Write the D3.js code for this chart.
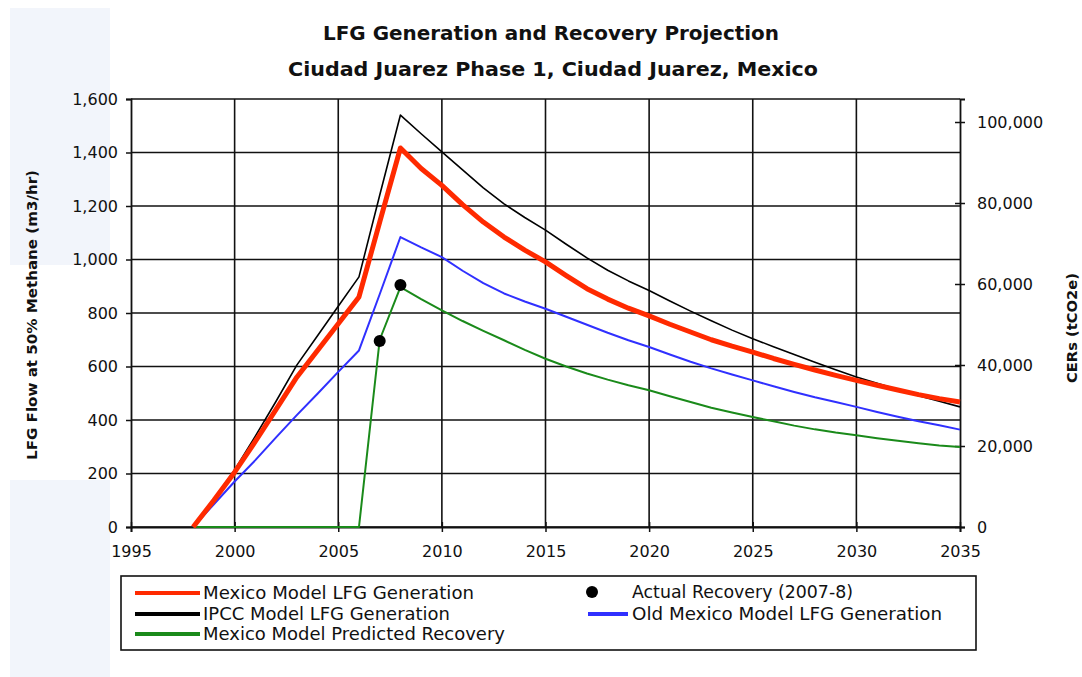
<!DOCTYPE html>
<html>
<head>
<meta charset="utf-8">
<script src="https://cdn.jsdelivr.net/npm/d3@7"></script>
<style>
  body { margin: 0; background: #fff; }
  text { font-family: "DejaVu Sans", sans-serif; fill: #111; }
</style>
</head>
<body>
<div id="chart"></div>
<script>
// data, one value per year 1998..2035
var years = d3.range(1998, 2036);
var mexicoGen = [0, 100, 205, 320, 440, 560, 660, 760, 860, 1140, 1417,
  1340, 1277, 1205, 1140, 1084, 1035, 991, 940, 891, 852, 818, 789, 758, 729, 700,
  676, 654, 630, 608, 587, 567, 548, 530, 512, 495, 480, 467];
var ipccGen = [0, 105, 213, 340, 470, 605, 715, 825, 935, 1240, 1540,
  1470, 1402, 1335, 1268, 1208, 1157, 1110, 1057, 1006, 960, 920, 884, 845, 807, 771,
  736, 704, 674, 645, 616, 588, 561, 537, 514, 491, 470, 449];
var oldMexicoGen = [0, 85, 170, 250, 335, 418, 498, 580, 660, 870, 1084,
  1045, 1009, 958, 912, 873, 843, 816, 786, 756, 726, 698, 673, 645, 618, 593,
  570, 548, 526, 505, 485, 467, 449, 430, 412, 395, 380, 364];
var predictedRecovery = [0, 0, 0, 0, 0, 0, 0, 0, 0, 700, 897,
  852, 810, 770, 733, 698, 662, 629, 600, 574, 551, 530, 511, 489, 467, 446,
  428, 411, 395, 379, 365, 353, 343, 332, 322, 313, 305, 299];
var actualYears = [2007, 2008];
var actualRecovery = [695, 905];

var xTicks = d3.range(1995, 2036, 5);
var yTicks = d3.range(0, 1601, 200);
var cerTicks = d3.range(0, 100001, 20000);

var seriesNames = ["Mexico Model LFG Generation", "IPCC Model LFG Generation",
  "Mexico Model Predicted Recovery", "Old Mexico Model LFG Generation"];
var seriesValues = [mexicoGen, ipccGen, predictedRecovery, oldMexicoGen];
var seriesColors = ["#ff2a00", "#000000", "#1a8a1a", "#3030ff"];
var seriesWidths = [5, 1.6, 2, 2];

var W = 1082, H = 677;
var plotLeft = 131, plotRight = 960, plotTop = 99, plotBottom = 527;

var svg = d3.select("#chart").append("svg")
  .attr("width", W)
  .attr("height", H);

// pale strips on the left edge of the original page
svg.append("rect").attr("x", 10).attr("y", 8).attr("width", 100).attr("height", 257).attr("fill", "#f2f5fb");
svg.append("rect").attr("x", 10).attr("y", 480).attr("width", 100).attr("height", 197).attr("fill", "#f2f5fb");

var x = d3.scaleLinear().domain([1995, 2035]).range([plotLeft, plotRight]);
var y = d3.scaleLinear().domain([0, 1600]).range([plotBottom, plotTop]);
var y2 = d3.scaleLinear().domain([0, 1600 * 100000 / 1514]).range([plotBottom, plotTop]);

// grid
svg.append("g").selectAll("line")
  .data(yTicks).enter().append("line")
  .attr("x1", plotLeft).attr("x2", plotRight)
  .attr("y1", function(d) { return y(d); })
  .attr("y2", function(d) { return y(d); })
  .attr("stroke", "#111").attr("stroke-width", 1.6);

svg.append("g").selectAll("line")
  .data(xTicks.slice(1, -1)).enter().append("line")
  .attr("x1", function(d) { return x(d); })
  .attr("x2", function(d) { return x(d); })
  .attr("y1", plotTop).attr("y2", plotBottom)
  .attr("stroke", "#111").attr("stroke-width", 1.6);

// axes
var yAxis = svg.append("g")
  .attr("transform", "translate(" + plotLeft + ",0)")
  .call(d3.axisLeft(y).tickValues(yTicks).tickSize(5).tickPadding(8).tickFormat(d3.format(",")));

var xAxis = svg.append("g")
  .attr("transform", "translate(0," + plotBottom + ")")
  .call(d3.axisBottom(x).tickValues(xTicks).tickSize(5).tickPadding(14).tickFormat(d3.format("d")));
xAxis.selectAll(".tick line").attr("y1", -5);

var y2Axis = svg.append("g")
  .attr("transform", "translate(" + plotRight + ",0)")
  .call(d3.axisRight(y2).tickValues(cerTicks).tickSize(5).tickPadding(12).tickFormat(d3.format(",")));
y2Axis.selectAll(".tick line").attr("x1", -5);

[yAxis, xAxis, y2Axis].forEach(function(a) {
  a.select(".domain").attr("stroke", "#111").attr("stroke-width", 1.8);
  a.selectAll(".tick line").attr("stroke", "#111").attr("stroke-width", 1.5);
  a.selectAll(".tick text").style("font-size", "16px").attr("fill", "#111");
});

// lines
var line = d3.line()
  .x(function(d, i) { return x(years[i]); })
  .y(function(d) { return y(d); });

var drawOrder = [3, 2, 1, 0];
drawOrder.forEach(function(k) {
  svg.append("path")
    .datum(seriesValues[k])
    .attr("d", line)
    .attr("fill", "none")
    .attr("stroke", seriesColors[k])
    .attr("stroke-width", seriesWidths[k])
    .attr("stroke-linejoin", "round");
});

svg.append("g").selectAll("circle")
  .data(actualRecovery).enter().append("circle")
  .attr("cx", function(d, i) { return x(actualYears[i]); })
  .attr("cy", function(d) { return y(d); })
  .attr("r", 6)
  .attr("fill", "#000");

// titles
svg.append("text")
  .attr("x", 551).attr("y", 40)
  .attr("text-anchor", "middle")
  .attr("textLength", 456).attr("lengthAdjust", "spacingAndGlyphs")
  .style("font-size", "20px").style("font-weight", "bold")
  .text("LFG Generation and Recovery Projection");

svg.append("text")
  .attr("x", 553).attr("y", 76)
  .attr("text-anchor", "middle")
  .attr("textLength", 530).attr("lengthAdjust", "spacingAndGlyphs")
  .style("font-size", "20px").style("font-weight", "bold")
  .text("Ciudad Juarez Phase 1, Ciudad Juarez, Mexico");

svg.append("text")
  .attr("transform", "translate(37,315) rotate(-90)")
  .attr("text-anchor", "middle")
  .attr("textLength", 290).attr("lengthAdjust", "spacingAndGlyphs")
  .style("font-size", "14px").style("font-weight", "bold")
  .text("LFG Flow at 50% Methane (m3/hr)");

svg.append("text")
  .attr("transform", "translate(1077,328) rotate(-90)")
  .attr("text-anchor", "middle")
  .attr("textLength", 110).attr("lengthAdjust", "spacingAndGlyphs")
  .style("font-size", "14px").style("font-weight", "bold")
  .text("CERs (tCO2e)");

// legend
var legend = svg.append("g");
legend.append("rect")
  .attr("x", 121).attr("y", 576).attr("width", 855).attr("height", 74)
  .attr("fill", "#fff").attr("stroke", "#111").attr("stroke-width", 1.6);

var legendItems = [
  {k: 0, x: 135, x2: 200, y: 593, tx: 203, len: 271},
  {k: 1, x: 135, x2: 200, y: 614, tx: 203, len: 247},
  {k: 2, x: 135, x2: 200, y: 634, tx: 203, len: 302},
  {k: 3, x: 588, x2: 628, y: 614, tx: 632, len: 310}
];

legendItems.forEach(function(d) {
  legend.append("line")
    .attr("x1", d.x).attr("x2", d.x2).attr("y1", d.y).attr("y2", d.y)
    .attr("stroke", seriesColors[d.k]).attr("stroke-width", 4);
  legend.append("text")
    .attr("x", d.tx).attr("y", d.y + 6)
    .attr("textLength", d.len).attr("lengthAdjust", "spacingAndGlyphs")
    .style("font-size", "17px")
    .text(seriesNames[d.k]);
});

legend.append("circle").attr("cx", 592).attr("cy", 592).attr("r", 6).attr("fill", "#000");
legend.append("text")
  .attr("x", 632).attr("y", 598)
  .attr("textLength", 221).attr("lengthAdjust", "spacingAndGlyphs")
  .style("font-size", "17px")
  .text("Actual Recovery (2007-8)");
</script>
</body>
</html>
